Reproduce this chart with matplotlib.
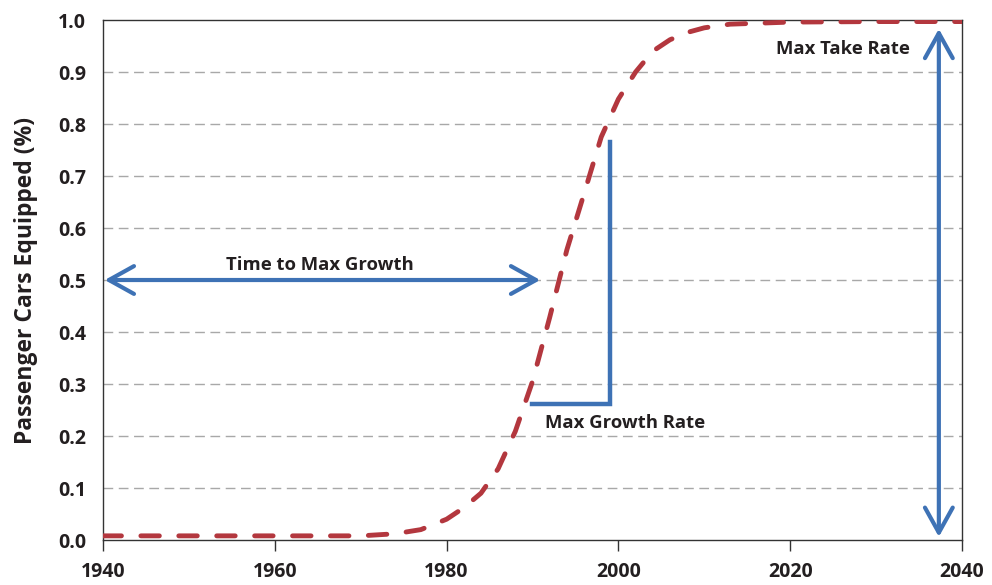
"""
Logistic adoption curve: share of passenger cars equipped over time,
with annotations for time to max growth, max growth rate and max take rate.
"""

import matplotlib
matplotlib.use("Agg")
import matplotlib.pyplot as plt

# values
years = [1940, 1950, 1960, 1970, 1974, 1977, 1980, 1982, 1984, 1986, 1988,
         1990, 1992, 1994, 1996, 1998, 2000, 2002, 2004, 2006, 2008, 2010,
         2013, 2020, 2030, 2040]
share = [0.008, 0.008, 0.008, 0.008, 0.012, 0.020, 0.040, 0.062, 0.090,
         0.137, 0.209, 0.305, 0.428, 0.558, 0.666, 0.775, 0.848, 0.900,
         0.940, 0.962, 0.976, 0.985, 0.992, 0.996, 0.997, 0.997]

x_ticks = [1940, 1960, 1980, 2000, 2020, 2040]
y_ticks = [0.0, 0.1, 0.2, 0.3, 0.4, 0.5, 0.6, 0.7, 0.8, 0.9, 1.0]

# annotation anchors (data coords)
time_to_growth = (1940.2, 1990.9, 0.5)
growth_bracket_x = [1989.9, 1999.0, 1999.0]
growth_bracket_y = [0.262, 0.262, 0.765]
take_rate = (2037.3, 0.006, 0.983)

RED = "#B3373E"
BLUE = "#3E72B5"
TXT = "#231F20"

plt.rcParams['font.family'] = ['Open Sans', 'DejaVu Sans']

fig = plt.figure(figsize=(9.92, 5.85), dpi=100)
ax = fig.add_axes([0.1038, 0.0769, 0.8660, 0.8889])

# gridlines
for v in y_ticks[1:-1]:
    ax.axhline(v, color="#A8A8A8", lw=1.0, dashes=(7, 4), zorder=1)

# curve
ax.plot(years, share, color=RED, lw=3.5, dashes=(3.8, 4.0),
        dash_capstyle="round", zorder=3)

# time to max growth arrow
arr = dict(arrowstyle="<->,head_length=0.9,head_width=0.5", color=BLUE,
           lw=3.0, shrinkA=0, shrinkB=0, mutation_scale=20)
ax.annotate("", xy=(time_to_growth[0], time_to_growth[2]),
            xytext=(time_to_growth[1], time_to_growth[2]),
            arrowprops=arr, zorder=4)
ax.text(1965.3, 0.528, "Time to Max Growth", ha="center", va="center",
        fontsize=13.3, fontweight="bold", color=TXT)

# max growth rate bracket
ax.plot(growth_bracket_x, growth_bracket_y, color=BLUE, lw=3.2,
        solid_joinstyle="miter", zorder=4)
ax.text(1991.5, 0.225, "Max Growth Rate", ha="left", va="center",
        fontsize=13.3, fontweight="bold", color=TXT)

# max take rate arrow
ax.annotate("", xy=(take_rate[0], take_rate[1]),
            xytext=(take_rate[0], take_rate[2]),
            arrowprops=arr, zorder=4)
ax.text(2033.9, 0.944, "Max Take Rate", ha="right", va="center",
        fontsize=13.3, fontweight="bold", color=TXT)

ax.set_xlim(1940, 2040)
ax.set_ylim(0, 1.0)
ax.set_xticks(x_ticks)
ax.set_yticks(y_ticks)
ax.set_yticklabels(["%.1f" % v for v in y_ticks])
ax.set_yticks([0.0], minor=True)

ax.tick_params(axis="x", direction="out", length=8, width=1, color="#333333",
               labelsize=14, pad=8)
ax.tick_params(axis="y", which="major", length=0, labelsize=14, pad=12)
ax.tick_params(axis="y", which="minor", length=8, width=1, color="#333333")
for lab in ax.get_xticklabels() + ax.get_yticklabels():
    lab.set_fontweight("bold")
    lab.set_color(TXT)

for s in ax.spines.values():
    s.set_color("#333333")
    s.set_linewidth(1.0)

ax.set_ylabel("Passenger Cars Equipped (%)", fontsize=16.5, fontweight="bold",
              color=TXT)
ax.yaxis.set_label_coords(-0.076, 0.5)

fig.savefig("out.png", dpi=100)
